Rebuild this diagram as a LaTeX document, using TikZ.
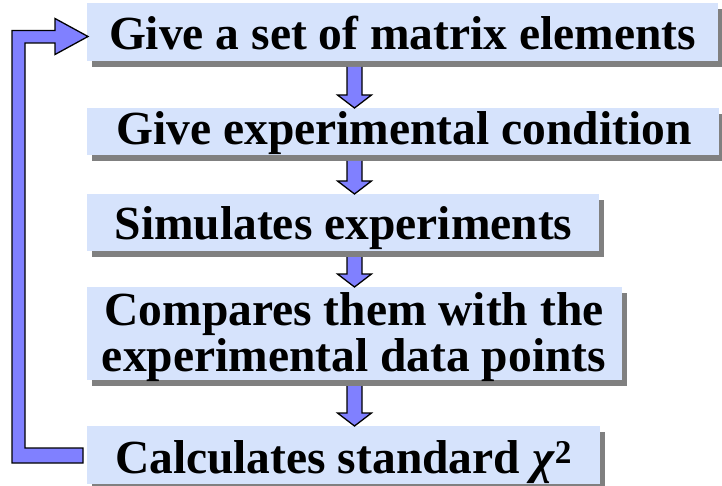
\documentclass[tikz,border=0pt]{standalone}
\usepackage{fontspec}
\setmainfont{Liberation Serif}
\usetikzlibrary{shadows,calc}
\definecolor{boxfill}{RGB}{214,227,252}
\definecolor{arrowfill}{RGB}{128,128,255}
\definecolor{shadowgray}{RGB}{128,128,128}
\tikzset{
  stepbox/.style={fill=boxfill, draw=none, inner sep=0pt, outer sep=0pt, anchor=north west,
    drop shadow={shadow xshift=5pt, shadow yshift=-6pt, fill=shadowgray, opacity=1}},
  steptext/.style={font=\fontsize{47.5}{46}\bfseries\selectfont, inner sep=0pt, anchor=base},
  flowarrow/.style={fill=arrowfill, draw=black, line width=1.3pt, line join=miter},
}
\newcommand\dnarrow[2]{%
  \path[flowarrow] let \p1=(#1.south), \p2=(#2.north) in
    (347pt,\y1-6pt) -- (347pt,\y2+13pt) -- (337.5pt,\y2+13pt) -- (354.5pt,\y2)
    -- (371.5pt,\y2+13pt) -- (362pt,\y2+13pt) -- (362pt,\y1-6pt);}
\begin{document}
\begin{tikzpicture}[x=1pt,y=-1pt]
\useasboundingbox (0,0) rectangle (722,486);
% boxes
\node[stepbox, minimum width=631pt, minimum height=58pt] (b1) at (87,3) {};
\node[stepbox, minimum width=632pt, minimum height=47pt] (b2) at (87,108) {};
\node[stepbox, minimum width=512pt, minimum height=57pt] (b3) at (87,194) {};
\node[stepbox, minimum width=535pt, minimum height=93pt] (b4) at (87,287) {};
\node[stepbox, minimum width=513pt, minimum height=58pt] (b5) at (87,426) {};
% texts
\node[steptext] (t1) at (402.5,50) {Give a set of matrix elements};
\node[steptext] (t2) at (404,145) {Give experimental condition};
\node[steptext] (t3) at (343.5,240) {Simulates experiments};
\node[steptext] (t4a) at (354,325) {Compares them with the};
\node[steptext] (t4b) at (354,371) {experimental data points};
\node[steptext] (t5) at (343.5,473) {Calculates standard \textit{χ}\textsuperscript{2}};
% down arrows
\dnarrow{b1}{b2}
\dnarrow{b2}{b3}
\dnarrow{b3}{b4}
\dnarrow{b4}{b5}
% loop arrow
\draw[flowarrow] let \p1=(b1.west), \p5=(b5.west) in
  (\x5-4pt,\y5-8pt) -- (12pt,\y5-8pt) -- (12pt,\y1+1.5pt) -- (\x1-32pt,\y1+1.5pt)
  -- (\x1-32pt,\y1+13.5pt) -- (\x1+1pt,\y1-4.5pt) -- (\x1-32pt,\y1-22.5pt)
  -- (\x1-32pt,\y1-11pt) -- (25pt,\y1-11pt) -- (25pt,\y5+7pt) -- (\x5-4pt,\y5+7pt) -- cycle;
\end{tikzpicture}
\end{document}
